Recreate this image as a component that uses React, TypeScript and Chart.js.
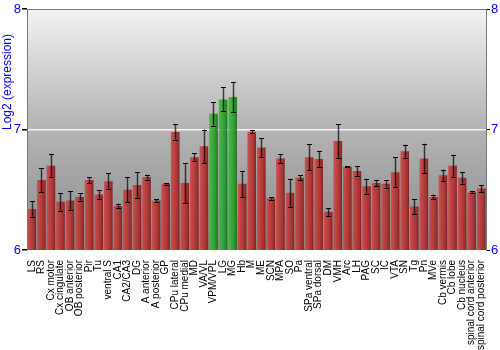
import React, { useEffect, useRef } from "react";
import { Chart, registerables } from "chart.js";

Chart.register(...registerables);

const regions = [
  "LS", "RS", "Cx motor", "Cx cingulate", "OB anterior", "OB posterior", "Pir", "Tu",
  "ventral S", "CA1", "CA2/CA3", "DG", "A anterior", "A posterior", "GP", "CPu lateral",
  "CPu medial", "MD", "VA/VL", "VPM/VPL", "LG", "MG", "Hb", "M", "ME", "SCN", "MPA", "SO",
  "Pa", "SPa ventral", "SPa dorsal", "DM", "VMH", "Arc", "LH", "PAG", "SC", "IC", "VTA",
  "SN", "Tg", "Pn", "MVe", "Cb vermis", "Cb lobe", "Cb nucleus", "spinal cord anterior",
  "spinal cord posterior",
];

const expression = [
  6.34, 6.58, 6.70, 6.40, 6.41, 6.44, 6.58, 6.46,
  6.57, 6.365, 6.50, 6.54, 6.605, 6.41, 6.55, 6.98,
  6.555, 6.77, 6.86, 7.13, 7.25, 7.27, 6.55, 6.98, 6.85, 6.43, 6.76, 6.475,
  6.60, 6.77, 6.755, 6.315, 6.905, 6.69, 6.655, 6.53, 6.555, 6.55, 6.645,
  6.82, 6.36, 6.76, 6.44, 6.62, 6.70, 6.60, 6.48,
  6.51,
];

const errors = [
  0.066, 0.097, 0.093, 0.075, 0.08, 0.03, 0.022, 0.037,
  0.066, 0.02, 0.105, 0.105, 0.02, 0.014, 0.007, 0.065,
  0.167, 0.032, 0.14, 0.098, 0.10, 0.125, 0.108, 0.012, 0.079, 0.011, 0.036, 0.118,
  0.02, 0.108, 0.068, 0.03, 0.14, 0.005, 0.039, 0.062, 0.028, 0.032, 0.125,
  0.054, 0.062, 0.122, 0.02, 0.048, 0.091, 0.05, 0.008,
  0.03,
];

const highlighted = ["VPM/VPL", "LG", "MG"];

const yTicks = [6, 7, 8];
const yTitle = "Log2 (expression)";

const FONT = "'Liberation Sans', Arial, sans-serif";

export default function App() {
  const ref = useRef<HTMLCanvasElement | null>(null);

  useEffect(() => {
    document.body.style.margin = "0";
    const canvas = ref.current;
    if (!canvas) return;

    const barFill = (ctx: any) => {
      const chart = ctx.chart;
      const idx = ctx.dataIndex;
      const green = highlighted.includes(regions[idx]);
      const xs = chart.scales && chart.scales.x;
      if (!xs || idx == null || !chart.chartArea) return green ? "#33a033" : "#b53434";
      const cx = xs.getPixelForValue(idx);
      const w = (xs.width / regions.length) * 0.9;
      const g = chart.ctx.createLinearGradient(cx - w / 2, 0, cx + w / 2, 0);
      if (green) {
        g.addColorStop(0, "rgba(70,185,70,0.92)");
        g.addColorStop(0.5, "rgba(45,165,45,0.92)");
        g.addColorStop(0.8, "rgba(35,140,35,0.92)");
        g.addColorStop(1, "rgba(20,100,20,0.92)");
      } else {
        g.addColorStop(0, "rgba(205,75,75,0.92)");
        g.addColorStop(0.5, "rgba(185,52,52,0.92)");
        g.addColorStop(0.8, "rgba(160,40,40,0.92)");
        g.addColorStop(1, "rgba(115,25,25,0.92)");
      }
      return g;
    };

    const bgPlugin = {
      id: "bg",
      beforeDraw(chart: any) {
        const { ctx, chartArea: a } = chart;
        const g = ctx.createLinearGradient(0, a.top, 0, a.bottom);
        g.addColorStop(0, "#f3f3f3");
        g.addColorStop(0.45, "#b8b8b8");
        g.addColorStop(1, "#8a8a8a");
        ctx.save();
        ctx.fillStyle = g;
        ctx.fillRect(a.left, a.top, a.right - a.left, a.bottom - a.top);
        ctx.restore();
      },
      afterDraw(chart: any) {
        const { ctx, chartArea: a } = chart;
        ctx.save();
        ctx.strokeStyle = "#777";
        ctx.lineWidth = 1;
        ctx.beginPath();
        ctx.moveTo(a.left, a.top + 0.5);
        ctx.lineTo(a.right, a.top + 0.5);
        ctx.stroke();
        // y title
        ctx.fillStyle = "#0000ff";
        ctx.font = "12px " + FONT;
        ctx.textAlign = "center";
        ctx.textBaseline = "middle";
        ctx.translate(8, 82);
        ctx.rotate(-Math.PI / 2);
        ctx.fillText(yTitle, 0, 0);
        ctx.restore();
      },
    };

    const errPlugin = {
      id: "err",
      afterDatasetsDraw(chart: any) {
        const { ctx } = chart;
        const xs = chart.scales.x;
        const ys = chart.scales.y;
        ctx.save();
        expression.forEach((v, i) => {
          const x = Math.round(xs.getPixelForValue(i)) + 0.5;
          const yt = ys.getPixelForValue(v + errors[i]);
          const yb = ys.getPixelForValue(v - errors[i]);
          ctx.strokeStyle = "rgba(0,0,0,0.7)";
          ctx.lineWidth = 1.5;
          ctx.beginPath();
          ctx.moveTo(x, yt);
          ctx.lineTo(x, yb);
          ctx.stroke();
          ctx.strokeStyle = "#000";
          ctx.lineWidth = 1;
          ctx.beginPath();
          ctx.moveTo(x - 2.5, Math.round(yt) + 0.5);
          ctx.lineTo(x + 2.5, Math.round(yt) + 0.5);
          ctx.moveTo(x - 2.5, Math.round(yb) + 0.5);
          ctx.lineTo(x + 2.5, Math.round(yb) + 0.5);
          ctx.stroke();
        });
        ctx.restore();
      },
    };

    const chart = new Chart(canvas, {
      type: "bar",
      data: {
        labels: regions,
        datasets: [
          {
            data: expression,
            backgroundColor: barFill,
            borderWidth: 0,
            barPercentage: 0.9,
            categoryPercentage: 1,
          },
        ],
      },
      options: {
        animation: false,
        responsive: false,
        maintainAspectRatio: false,
        layout: { padding: { top: 9, left: 0, right: 0, bottom: 0 } },
        plugins: { legend: { display: false }, tooltip: { enabled: false } },
        scales: {
          x: {
            grid: { display: false },
            border: { display: false },
            ticks: {
              autoSkip: false,
              minRotation: 90,
              maxRotation: 90,
              color: "#000",
              padding: 2,
              font: { family: FONT, size: 10 },
            },
            afterFit(s: any) {
              s.height = 100;
            },
          },
          y: {
            position: "left",
            min: 6,
            max: 8,
            afterBuildTicks(s: any) {
              s.ticks = yTicks.map((v) => ({ value: v }));
            },
            grid: {
              color: (c: any) => (c.tick && c.tick.value === 7 ? "rgba(255,255,255,0.85)" : "rgba(0,0,0,0)"),
              lineWidth: 1.5,
              tickColor: "#000",
              tickLength: 5,
            },
            border: { color: "#777", width: 1 },
            ticks: {
              color: "#0000ff",
              padding: 1,
              font: { family: FONT, size: 13 },
            },
            afterFit(s: any) {
              s.width = 27;
            },
          },
          y2: {
            position: "right",
            min: 6,
            max: 8,
            afterBuildTicks(s: any) {
              s.ticks = yTicks.map((v) => ({ value: v }));
            },
            grid: {
              drawOnChartArea: false,
              tickColor: "#000",
              tickLength: 4,
            },
            border: { color: "#777", width: 1 },
            ticks: {
              color: "#0000ff",
              padding: 1,
              font: { family: FONT, size: 13 },
            },
            afterFit(s: any) {
              s.width = 14;
            },
          },
        },
      },
      plugins: [bgPlugin, errPlugin],
    });

    return () => chart.destroy();
  }, []);

  return <canvas ref={ref} width={500} height={350} style={{ display: "block" }} />;
}
